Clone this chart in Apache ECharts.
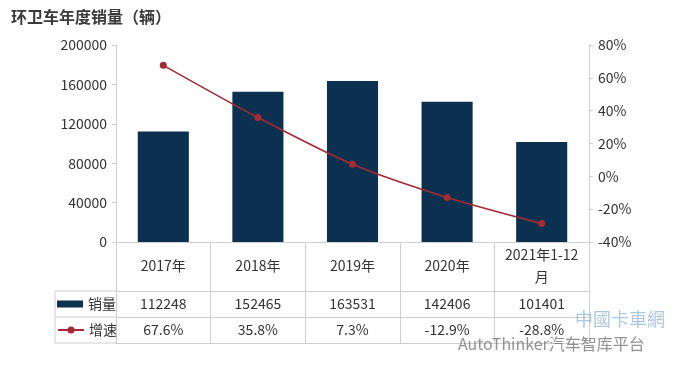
<!DOCTYPE html>
<html>
<head>
<meta charset="utf-8">
<script src="https://cdn.jsdelivr.net/npm/echarts@6/dist/echarts.min.js"></script>
<style>
html,body{margin:0;padding:0;background:#fff;}
#c{width:700px;height:385px;}
</style>
</head>
<body>
<div id="c"></div>
<script>
var categories = ['2017年', '2018年', '2019年', '2020年', '2021年1-12\n月'];
var sales = [112248, 152465, 163531, 142406, 101401];
var growth = [67.6, 35.8, 7.3, -12.9, -28.8];
var leftTicks = [0, 200000, 40000];
var rightTicks = [-40, 80, 20];

var FONT = '"Noto Sans CJK SC", "Noto Sans", sans-serif';
var GL = 116, GR = 589, GT = 45, GB = 242;
var ROW1 = 291, ROW2 = 317, ROW3 = 343, TL = 55;
var lineCol = '#cfcfcf';
var txt = '#333333';

function tableAxis(data, offset, showLabel) {
  return {
    type: 'category', data: data, position: 'bottom', offset: offset,
    axisLine: { onZero: false, lineStyle: { color: lineCol } },
    axisTick: { show: false },
    axisLabel: { show: showLabel, interval: 0, margin: 13, verticalAlign: 'middle', fontSize: 14, color: txt, fontFamily: FONT }
  };
}

var chart = echarts.init(document.getElementById('c'));
var opt = {
  backgroundColor: '#ffffff',
  animation: false,
  textStyle: { fontFamily: FONT },
  title: {
    text: '环卫车年度销量（辆）',
    left: 6, top: 4,
    textStyle: { fontSize: 16, fontWeight: 'bold', color: '#3a3a3a', fontFamily: FONT }
  },
  grid: { left: GL, right: 700 - GR, top: GT, bottom: 385 - GB },
  legend: [
    {
      data: [{ name: '销量', icon: 'rect' }],
      left: 57, top: 291, padding: 0, itemWidth: 26, itemHeight: 7, itemGap: 4,
      textStyle: { fontSize: 14, color: txt, fontFamily: FONT, lineHeight: 26, height: 26 }
    },
    {
      data: [{ name: '增速' }],
      left: 57, top: 317, padding: 0, itemWidth: 26, itemHeight: 9, itemGap: 4,
      textStyle: { fontSize: 14, color: txt, fontFamily: FONT, lineHeight: 26, height: 26 }
    }
  ],
  xAxis: [
    {
      type: 'category', data: categories, position: 'bottom',
      axisLine: { onZero: false, lineStyle: { color: lineCol } },
      axisTick: { show: true, length: ROW3 - GB, interval: 0, lineStyle: { color: lineCol } },
      axisLabel: { interval: 0, margin: 24, verticalAlign: 'middle', fontSize: 14, color: txt, lineHeight: 22, fontFamily: FONT }
    },
    tableAxis(sales.map(function (v) { return String(v); }), ROW1 - GB, true),
    tableAxis(growth.map(function (v) { return v.toFixed(1) + '%'; }), ROW2 - GB, true),
    tableAxis(categories, ROW3 - GB, false)
  ],
  yAxis: [
    {
      type: 'value', min: leftTicks[0], max: leftTicks[1], interval: leftTicks[2],
      axisLine: { show: true, lineStyle: { color: lineCol } },
      axisTick: { show: true, length: 4, lineStyle: { color: lineCol } },
      splitLine: { show: false },
      axisLabel: { fontSize: 14, color: txt, margin: 9, fontFamily: FONT, formatter: function (v) { return String(v); } }
    },
    {
      type: 'value', min: rightTicks[0], max: rightTicks[1], interval: rightTicks[2],
      position: 'right',
      axisLine: { show: true, lineStyle: { color: lineCol } },
      axisTick: { show: true, length: 4, lineStyle: { color: lineCol } },
      splitLine: { show: false },
      axisLabel: { fontSize: 14, color: txt, margin: 9, formatter: '{value}%', fontFamily: FONT }
    }
  ],
  series: [
    {
      name: '销量', type: 'bar', data: sales, barWidth: '54%',
      itemStyle: { color: '#0c3150' }
    },
    {
      name: '增速', type: 'line', yAxisIndex: 1, data: growth, smooth: 0.25,
      symbol: 'circle', symbolSize: 7,
      lineStyle: { color: '#a52a33', width: 1.6 },
      itemStyle: { color: '#a52a33' }
    }
  ],
  graphic: [
    { type: 'line', shape: { x1: TL, y1: ROW1, x2: GL, y2: ROW1 }, style: { stroke: lineCol, lineWidth: 1 } },
    { type: 'line', shape: { x1: TL, y1: ROW2, x2: GL, y2: ROW2 }, style: { stroke: lineCol, lineWidth: 1 } },
    { type: 'line', shape: { x1: TL, y1: ROW3, x2: GL, y2: ROW3 }, style: { stroke: lineCol, lineWidth: 1 } },
    { type: 'line', shape: { x1: TL, y1: ROW1, x2: TL, y2: ROW3 }, style: { stroke: lineCol, lineWidth: 1 } },
    { type: 'text', left: 458, top: 336, z: 100,
      style: { text: 'AutoThinker汽车智库平台', fontSize: 16, fill: 'rgba(110,110,110,0.75)', fontFamily: FONT } },
    { type: 'text', left: 575, top: 310, z: 100,
      style: { text: '中國卡車網', fontSize: 18, fill: 'rgba(70,130,190,0.45)', fontFamily: FONT, letterSpacing: 1 } }
  ]
};
chart.setOption(opt);
</script>
</body>
</html>
